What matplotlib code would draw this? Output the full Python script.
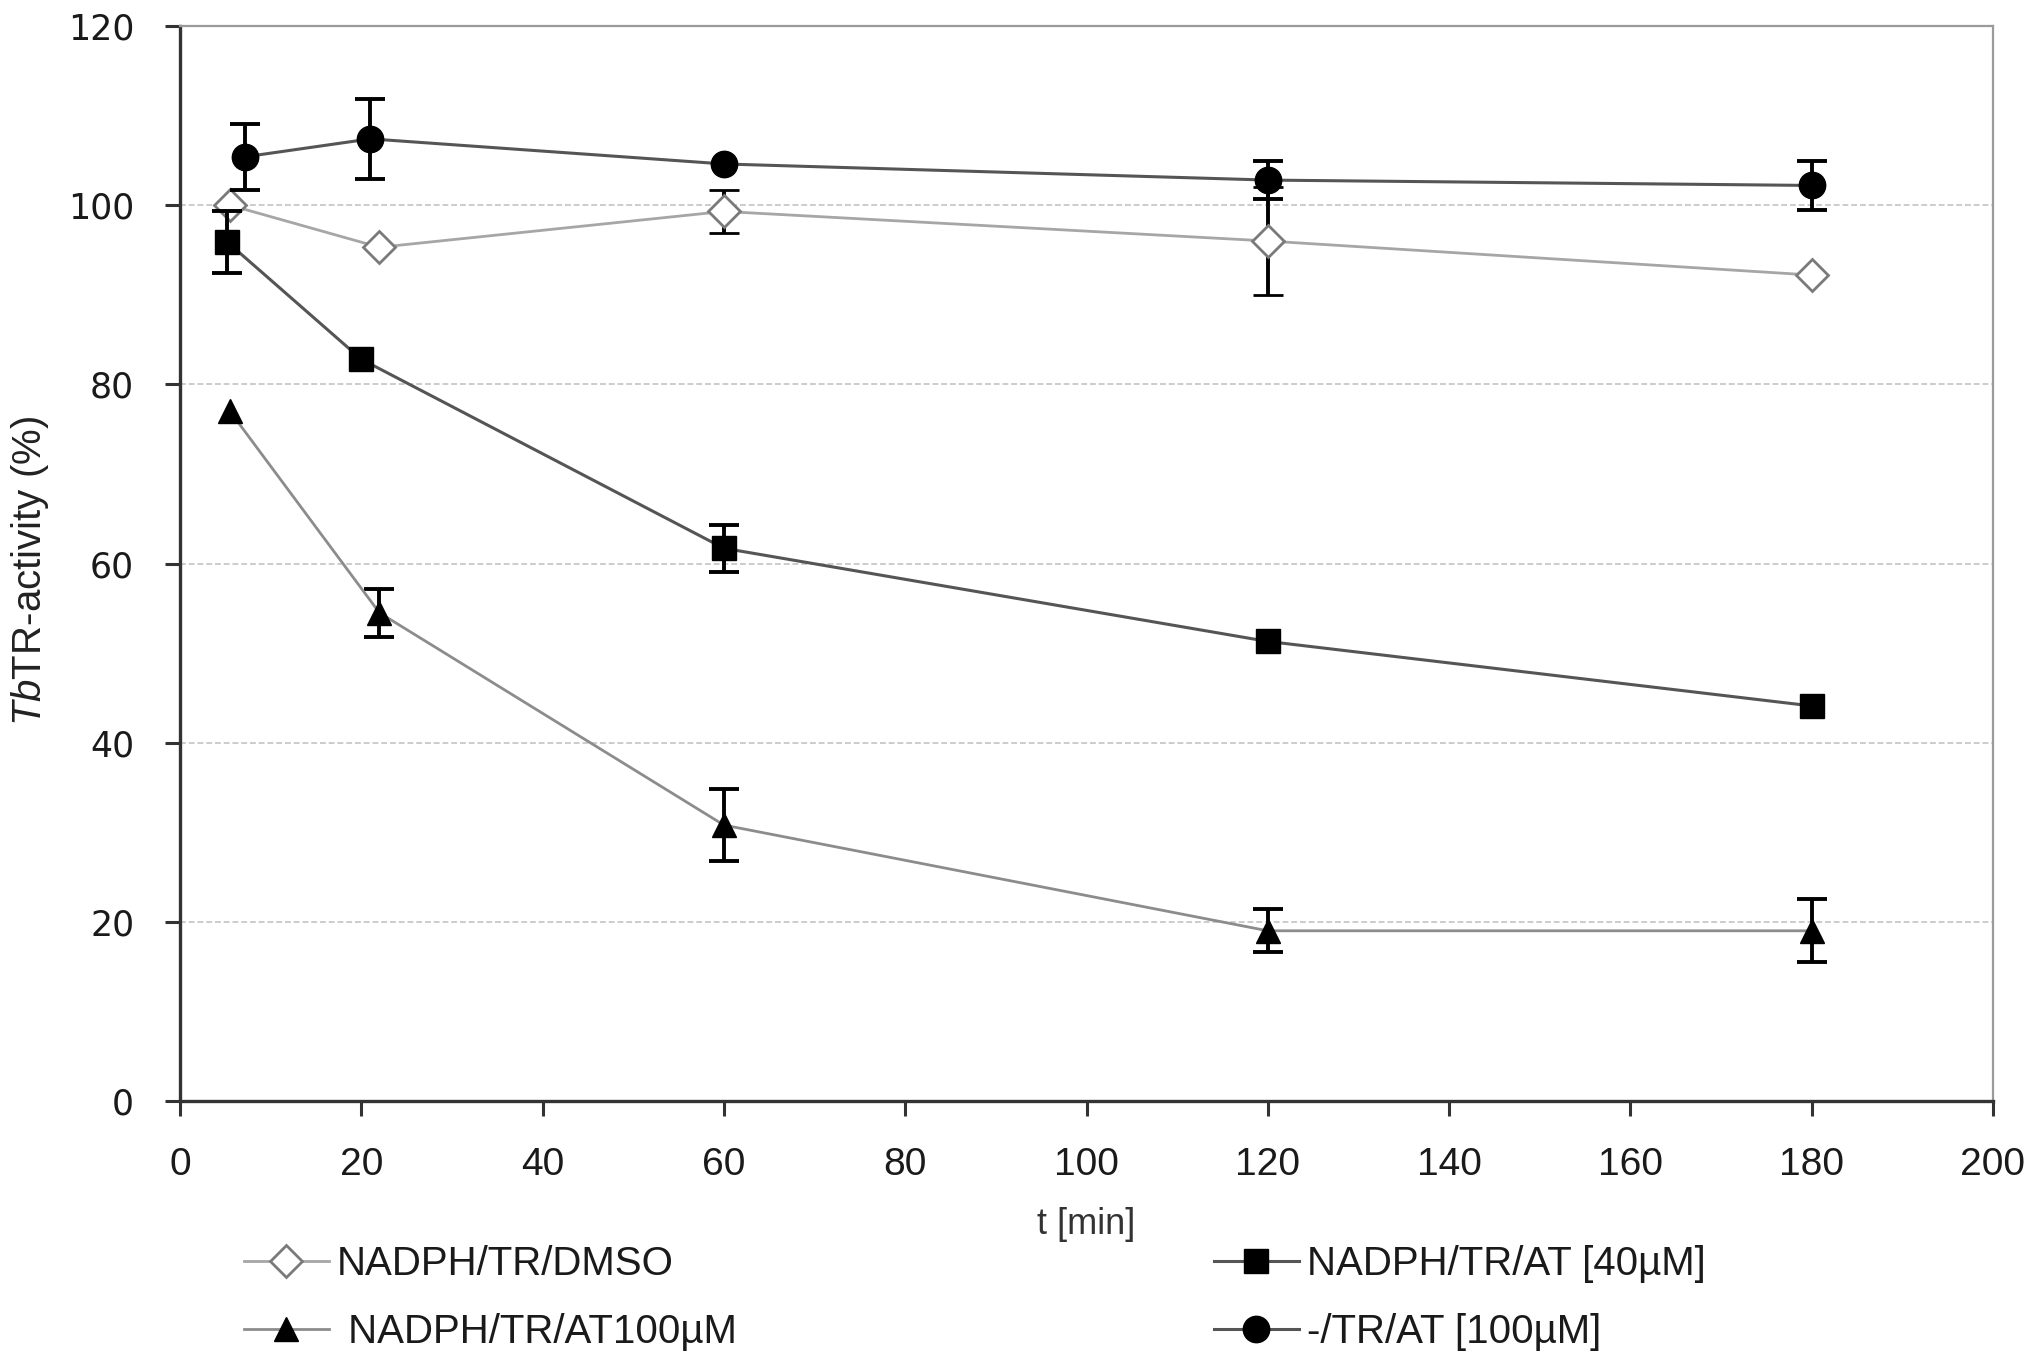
import matplotlib
matplotlib.use("Agg")
import matplotlib.pyplot as plt
import numpy as np

# ---- data ----
t_dmso = [5.5, 22, 60, 120, 180]
dmso = [100.0, 95.3, 99.3, 96.0, 92.2]
dmso_err = [np.nan, np.nan, 2.4, 6.0, np.nan]

t_at40 = [5.2, 20, 60, 120, 180]
at40 = [95.9, 82.8, 61.7, 51.3, 44.1]
at40_err = [3.5, np.nan, 2.6, np.nan, np.nan]

t_at100 = [5.5, 22, 60, 120, 180]
at100 = [77.0, 54.5, 30.8, 19.0, 19.0]
at100_err = [np.nan, 2.7, 4.0, 2.4, 3.5]

t_ctrl = [7.2, 21, 60, 120, 180]
ctrl = [105.4, 107.4, 104.6, 102.8, 102.2]
ctrl_err = [3.7, 4.5, np.nan, 2.1, 2.7]

labels = ["NADPH/TR/DMSO", " NADPH/TR/AT100µM", "NADPH/TR/AT [40µM]", "-/TR/AT [100µM]"]
x_ticks = [0, 20, 40, 60, 80, 100, 120, 140, 160, 180, 200]
y_ticks = [0, 20, 40, 60, 80, 100, 120]

REGULAR = ["Liberation Sans", "DejaVu Sans"]
VERDANA = ["DejaVu Sans"]

plt.rcParams["font.family"] = REGULAR
plt.rcParams["mathtext.fontset"] = "custom"
plt.rcParams["mathtext.it"] = "Liberation Sans:italic"
plt.rcParams["mathtext.rm"] = "Liberation Sans"

W, H = 2036, 1364
fig = plt.figure(figsize=(W / 100, H / 100), dpi=100)
ax = fig.add_axes([180 / W, 1 - 1101 / H, (1993 - 180) / W, (1101 - 26) / H])

eb = dict(ecolor="black", elinewidth=2.8, capsize=11, capthick=2.8)

c1 = ax.errorbar(t_dmso, dmso, yerr=dmso_err, color="#a6a6a6", lw=2.0, marker="D", ms=16,
                 mfc="white", mec="#7a7a7a", mew=2.0, zorder=3, **eb)
c3 = ax.errorbar(t_at100, at100, yerr=at100_err, color="#8c8c8c", lw=2.0, marker="^", ms=17,
                 mfc="black", mec="black", zorder=3, **eb)
c2 = ax.errorbar(t_at40, at40, yerr=at40_err, color="#555555", lw=2.2, marker="s", ms=17,
                 mfc="black", mec="black", zorder=4, **eb)
c4 = ax.errorbar(t_ctrl, ctrl, yerr=ctrl_err, color="#555555", lw=2.2, marker="o", ms=19,
                 mfc="black", mec="black", zorder=4, **eb)

ax.set_xlim(0, 200)
ax.set_ylim(0, 120)
ax.set_xticks(x_ticks)
ax.set_yticks(y_ticks)

ax.yaxis.grid(True, color="#cccccc", linestyle=(0, (3, 1.5)), linewidth=1.4)
ax.set_axisbelow(True)

for s in ["left", "bottom"]:
    ax.spines[s].set_color("#333333")
    ax.spines[s].set_linewidth(2.4)
for s in ["top", "right"]:
    ax.spines[s].set_color("#9a9a9a")
    ax.spines[s].set_linewidth(1.6)

ax.tick_params(axis="both", direction="out", length=11, width=2.2, color="#333333", pad=22)
for lab in ax.get_yticklabels():
    lab.set_fontfamily(VERDANA)
    lab.set_fontsize(25)
    lab.set_color("#1a1a1a")
for lab in ax.get_xticklabels():
    lab.set_fontfamily(REGULAR)
    lab.set_fontsize(28)
    lab.set_color("#1a1a1a")

ax.set_ylabel(r"$\it{Tb}$TR-activity (%)", fontsize=29, color="#222222")
ax.yaxis.set_label_coords(-0.071, 0.493)
ax.set_xlabel("t [min]", fontsize=26, color="#333333")
ax.xaxis.set_label_coords(0.5, -0.099)

leg_kw = dict(loc="upper left", frameon=False, borderpad=0, borderaxespad=0,
              handlelength=2.1, handletextpad=0.2, labelspacing=0.75, fontsize=29,
              labelcolor="#1a1a1a")
fig.legend([c1[0], c3[0]], [labels[0], labels[1]],
           bbox_to_anchor=(244 / W, 1 - 1245 / H), **leg_kw)
fig.legend([c2[0], c4[0]], [labels[2], labels[3]],
           bbox_to_anchor=(1214 / W, 1 - 1245 / H), **leg_kw)

fig.savefig("out.png", dpi=100)
